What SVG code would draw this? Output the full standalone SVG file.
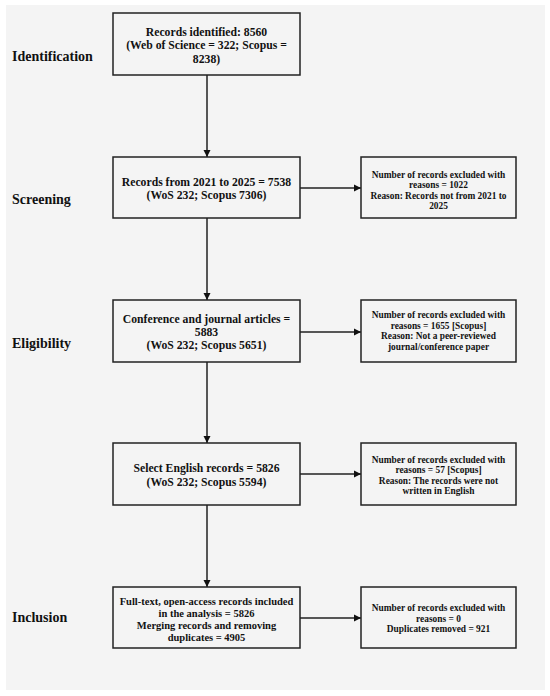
<svg xmlns="http://www.w3.org/2000/svg" width="550" height="696" viewBox="0 0 550 696">
<style>
.bg{fill:#f4f4f4}
.box{fill:#f4f4f4;stroke:#222;stroke-width:1.5}
.lbl{font-family:"Liberation Serif","Times New Roman",serif;font-weight:bold;font-size:14px;fill:#111}
.t{font-family:"Liberation Serif","Times New Roman",serif;font-weight:bold;font-size:11.7px;fill:#111;text-anchor:middle}
.s{font-family:"Liberation Serif","Times New Roman",serif;font-weight:bold;font-size:9.4px;fill:#111;text-anchor:middle}
.c{stroke:#222;stroke-width:1.5;fill:none;marker-end:url(#ah)}
</style>
<defs>
<marker id="ah" markerWidth="8" markerHeight="8" refX="7" refY="4" orient="auto" markerUnits="userSpaceOnUse">
<path d="M0,0.5 L7,4 L0,7.5 Z" fill="#111"/>
</marker>
</defs>
<rect width="550" height="696" fill="#fff"/>
<rect class="bg" x="6" y="5" width="539" height="685"/>
<g id="stages">
<text class="lbl" x="12" y="61">Identification</text>
<text class="lbl" x="12" y="204">Screening</text>
<text class="lbl" x="12" y="348">Eligibility</text>
<text class="lbl" x="12" y="622">Inclusion</text>
</g>
<g id="connectors">
<line class="c" x1="207" y1="75" x2="207" y2="157"/>
<line class="c" x1="207" y1="218" x2="207" y2="300"/>
<line class="c" x1="207" y1="362" x2="207" y2="443"/>
<line class="c" x1="207" y1="505" x2="207" y2="587"/>
<line class="c" x1="300" y1="188" x2="361" y2="188"/>
<line class="c" x1="300" y1="332" x2="361" y2="332"/>
<line class="c" x1="300" y1="474" x2="361" y2="474"/>
<line class="c" x1="300" y1="618" x2="361" y2="618"/>
</g>
<g id="n1">
<rect class="box" x="113" y="13" width="187" height="62"/>
<text class="t" x="206.5" y="36">Records identified: 8560</text>
<text class="t" x="206.5" y="49">(Web of Science = 322; Scopus =</text>
<text class="t" x="206.5" y="63">8238)</text>
</g>
<g id="n2">
<rect class="box" x="113" y="157" width="187" height="61"/>
<text class="t" x="206.5" y="186">Records from 2021 to 2025 = 7538</text>
<text class="t" x="206.5" y="199">(WoS 232; Scopus 7306)</text>
</g>
<g id="n3">
<rect class="box" x="113" y="300" width="187" height="62"/>
<text class="t" x="206.5" y="323">Conference and journal articles =</text>
<text class="t" x="206.5" y="336">5883</text>
<text class="t" x="206.5" y="349">(WoS 232; Scopus 5651)</text>
</g>
<g id="n4">
<rect class="box" x="113" y="443" width="187" height="62"/>
<text class="t" x="206.5" y="472">Select English records = 5826</text>
<text class="t" x="206.5" y="486">(WoS 232; Scopus 5594)</text>
</g>
<g id="n5">
<rect class="box" x="113" y="587" width="187" height="61"/>
<text class="t" x="206.5" y="605" style="font-size:10.5px">Full-text, open-access records included</text>
<text class="t" x="206.5" y="617" style="font-size:10.5px">in the analysis = 5826</text>
<text class="t" x="206.5" y="629" style="font-size:10.5px">Merging records and removing</text>
<text class="t" x="206.5" y="641" style="font-size:10.5px">duplicates = 4905</text>
</g>
<g id="e1">
<rect class="box" x="361" y="157" width="155" height="61"/>
<text class="s" x="438.5" y="177.5">Number of records excluded with</text>
<text class="s" x="438.5" y="188">reasons = 1022</text>
<text class="s" x="438.5" y="198.5">Reason: Records not from 2021 to</text>
<text class="s" x="438.5" y="209">2025</text>
</g>
<g id="e2">
<rect class="box" x="361" y="300" width="155" height="62"/>
<text class="s" x="438.5" y="318">Number of records excluded with</text>
<text class="s" x="438.5" y="328.5">reasons = 1655 [Scopus]</text>
<text class="s" x="438.5" y="339">Reason: Not a peer-reviewed</text>
<text class="s" x="438.5" y="349.5">journal/conference paper</text>
</g>
<g id="e3">
<rect class="box" x="361" y="443" width="155" height="62"/>
<text class="s" x="438.5" y="462.5">Number of records excluded with</text>
<text class="s" x="438.5" y="473">reasons = 57 [Scopus]</text>
<text class="s" x="438.5" y="483.5">Reason: The records were not</text>
<text class="s" x="438.5" y="494">written in English</text>
</g>
<g id="e4">
<rect class="box" x="361" y="587" width="155" height="61"/>
<text class="s" x="438.5" y="611">Number of records excluded with</text>
<text class="s" x="438.5" y="621.5">reasons = 0</text>
<text class="s" x="438.5" y="632">Duplicates removed = 921</text>
</g>
</svg>
